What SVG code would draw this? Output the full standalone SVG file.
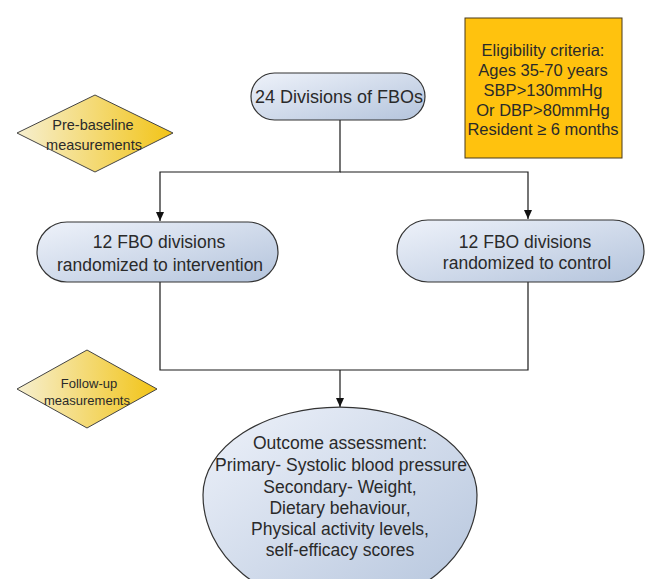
<svg xmlns="http://www.w3.org/2000/svg" width="648" height="579" viewBox="0 0 648 579">
<style>
text{font-family:"Liberation Sans",Arial,sans-serif;fill:#2a2a2a;text-anchor:middle}
.pill{stroke:#333;stroke-width:1.2;fill:url(#gb)}
.dia{stroke:#444;stroke-width:1;fill:url(#gy)}
.ln{stroke:#1a1a1a;stroke-width:1.2;fill:none}
.tp{font-size:17.5px}
.te{font-size:16.5px}
</style>
<defs>
<linearGradient id="gb" x1="0" y1="0" x2="1" y2="1">
<stop offset="0" stop-color="#eef2fa"/>
<stop offset="1" stop-color="#b4c4dc"/>
</linearGradient>
<linearGradient id="gy" x1="0" y1="0" x2="1" y2="0">
<stop offset="0" stop-color="#f6efd0"/>
<stop offset="1" stop-color="#f2c417"/>
</linearGradient>
<marker id="ar" markerWidth="10" markerHeight="10" refX="9" refY="5" orient="auto" markerUnits="userSpaceOnUse">
<path d="M0,1 L9,5 L0,9 Z" fill="#111"/>
</marker>
</defs>
<g id="connectors">
<path class="ln" d="M340,120 V172 H160 V221" marker-end="url(#ar)"/>
<path class="ln" d="M340,172 H528 V219" marker-end="url(#ar)"/>
<path class="ln" d="M160,282 V370 H528 V282"/>
<path class="ln" d="M340,370 V407" marker-end="url(#ar)"/>
</g>
<g id="n-top">
<rect class="pill" x="251" y="73" width="174" height="47" rx="23.5"/>
<text x="339" y="103" style="font-size:18px">24 Divisions of FBOs</text>
</g>
<g id="n-elig">
<rect x="465" y="18" width="157" height="140" fill="#ffc20e" stroke="#4a3a1a" stroke-width="1"/>
<text class="te" x="543" y="56">Eligibility criteria:</text>
<text class="te" x="543" y="76">Ages 35-70 years</text>
<text class="te" x="543" y="96">SBP&gt;130mmHg</text>
<text class="te" x="543" y="116">Or DBP&gt;80mmHg</text>
<text class="te" x="543" y="135">Resident ≥ 6 months</text>
</g>
<g id="n-pre">
<polygon class="dia" points="17,133 95,95 173,133 95,172"/>
<text x="93" y="130" style="font-size:14.5px">Pre-baseline</text>
<text x="94" y="150" style="font-size:14.5px">measurements</text>
</g>
<g id="n-int">
<rect class="pill" x="37" y="222" width="241" height="60" rx="30"/>
<text class="tp" x="159" y="248">12 FBO divisions</text>
<text class="tp" x="160" y="271">randomized to intervention</text>
</g>
<g id="n-ctl">
<rect class="pill" x="397" y="220" width="247" height="62" rx="31"/>
<text class="tp" x="525" y="248">12 FBO divisions</text>
<text class="tp" x="527" y="269">randomized to control</text>
</g>
<g id="n-fu">
<polygon class="dia" points="17,389 87,350 157,389 87,428"/>
<text x="89" y="388" style="font-size:13px">Follow-up</text>
<text x="87" y="405" style="font-size:13px">measurements</text>
</g>
<g id="n-out">
<path class="pill" d="M203,495 A137,88 0 0 1 477,495 A137,112 0 0 1 340,607 A137,112 0 0 1 203,495 Z"/>
<text class="tp" x="340" y="449">Outcome assessment:</text>
<text class="tp" x="341" y="471">Primary- Systolic blood pressure</text>
<text class="tp" x="340" y="493">Secondary- Weight,</text>
<text class="tp" x="340" y="514">Dietary behaviour,</text>
<text class="tp" x="340" y="535">Physical activity levels,</text>
<text class="tp" x="340" y="556">self-efficacy scores</text>
</g>
</svg>
